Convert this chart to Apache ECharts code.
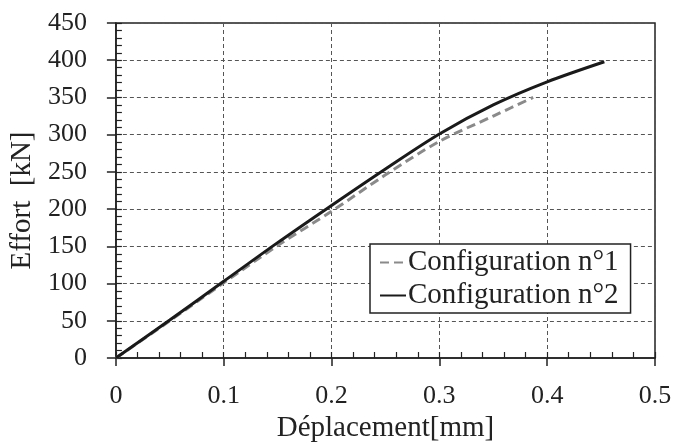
<!DOCTYPE html>
<html>
<head>
<meta charset="utf-8">
<script src="https://cdn.jsdelivr.net/npm/echarts@6/dist/echarts.min.js"></script>
<style>html,body{margin:0;padding:0;background:#fff;}#c{width:675px;height:448px;}</style>
</head>
<body>
<div id="c"></div>
<script>
var seriesNames = ['Configuration n°1', 'Configuration n°2'];
var config1X = [0, 0.05, 0.1, 0.15, 0.2, 0.25, 0.3, 0.35, 0.387];
var config1Y = [0, 50, 101, 151, 197, 246, 291, 325, 350];
var config2X = [0, 0.05, 0.1, 0.15, 0.2, 0.25, 0.3, 0.35, 0.4, 0.453];
var config2Y = [0, 51, 103, 155, 205, 254, 301, 340, 371, 398];
var xTitle = 'Déplacement[mm]';
var yTitle = 'Effort  [kN]';

function pairs(xs, ys) { return xs.map(function (x, i) { return [x, ys[i]]; }); }

var font = 'Liberation Serif';
var chart = echarts.init(document.getElementById('c'));
chart.setOption({
  animation: false,
  backgroundColor: '#fff',
  textStyle: { fontFamily: font },
  grid: { left: 115, right: 20, top: 23, bottom: 88, show: true, borderColor: '#222', borderWidth: 1.5 },
  legend: {
    data: seriesNames,
    orient: 'vertical',
    left: 370, top: 244,
    backgroundColor: '#fff',
    borderColor: '#222', borderWidth: 1.5,
    borderRadius: 0,
    padding: [4, 12, 3, 9],
    itemGap: 4,
    itemWidth: 26, itemHeight: 12,
    itemStyle: { opacity: 0 },
    textStyle: { fontFamily: font, fontSize: 29, color: '#222', padding: [0, 0, 0, -3] }
  },
  xAxis: [{
    type: 'value', min: 0, max: 0.5, interval: 0.1,
    name: xTitle, nameLocation: 'middle', nameGap: 56,
    nameTextStyle: { fontFamily: font, fontSize: 29, color: '#222' },
    axisLine: { show: true, onZero: false, lineStyle: { color: '#222', width: 1.5 } },
    axisTick: { show: true, inside: false, length: 8, lineStyle: { color: '#222', width: 1.5 } },
    axisLabel: { fontFamily: font, fontSize: 26, color: '#222', margin: 25 },
    splitLine: { show: true, lineStyle: { color: '#555', type: [4, 3], width: 1 } }
  }, {
    type: 'value', min: 0, max: 0.5, interval: 0.02, position: 'bottom',
    axisLine: { show: false },
    axisTick: { show: true, inside: true, length: 6, lineStyle: { color: '#222', width: 1.2 } },
    axisLabel: { show: false },
    splitLine: { show: false }
  }],
  yAxis: [{
    type: 'value', min: 0, max: 450, interval: 50,
    name: yTitle, nameLocation: 'middle', nameGap: 76,
    nameTextStyle: { fontFamily: font, fontSize: 29, color: '#222', padding: [0, 20, 0, 0] },
    axisLine: { show: true, onZero: false, lineStyle: { color: '#222', width: 1.5 } },
    axisTick: { show: true, inside: false, length: 9, lineStyle: { color: '#222', width: 1.5 } },
    axisLabel: { fontFamily: font, fontSize: 26, color: '#222', margin: 29 },
    splitLine: { show: true, lineStyle: { color: '#555', type: [4, 3], width: 1 } }
  }, {
    type: 'value', min: 0, max: 450, interval: 10, position: 'left',
    axisLine: { show: false },
    axisTick: { show: true, inside: true, length: 6, lineStyle: { color: '#222', width: 1.2 } },
    axisLabel: { show: false },
    splitLine: { show: false }
  }],
  series: [{
    name: seriesNames[0], type: 'line', smooth: 0.3, symbol: 'none',
    data: pairs(config1X, config1Y),
    lineStyle: { color: '#8a8a8a', width: 3, type: [9, 5] },
    itemStyle: { color: '#8a8a8a' }
  }, {
    name: seriesNames[1], type: 'line', smooth: 0.3, symbol: 'none',
    data: pairs(config2X, config2Y),
    lineStyle: { color: '#1a1a1a', width: 3 },
    itemStyle: { color: '#1a1a1a' }
  }]
});
</script>
</body>
</html>
